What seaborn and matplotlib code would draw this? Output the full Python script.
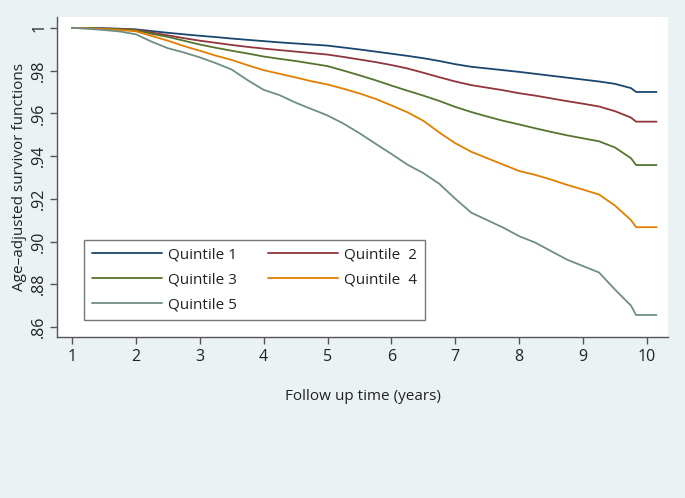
import matplotlib
matplotlib.use('Agg')
import matplotlib.pyplot as plt
import seaborn as sns
import pandas as pd

# follow up time grid (years)
times = [1.0, 1.25, 1.5, 1.75, 2.0, 2.25, 2.5, 2.75, 3.0, 3.25, 3.5, 3.75,
         4.0, 4.25, 4.5, 4.75, 5.0, 5.25, 5.5, 5.75, 6.0, 6.25, 6.5, 6.75,
         7.0, 7.25, 7.5, 7.75, 8.0, 8.25, 8.5, 8.75, 9.0, 9.25, 9.5, 9.75,
         9.83, 10.15]

q1 = [1.0, 0.9999, 0.9998, 0.9996, 0.9993, 0.9985, 0.9977, 0.9970, 0.9963, 0.9957,
      0.9950, 0.9944, 0.9938, 0.9932, 0.9927, 0.9922, 0.9917, 0.9908, 0.9899, 0.9889,
      0.9879, 0.9869, 0.9858, 0.9845, 0.9830, 0.9818, 0.9810, 0.9802, 0.9794, 0.9785,
      0.9776, 0.9767, 0.9758, 0.9749, 0.9738, 0.9718, 0.9700, 0.9700]
q2 = [1.0, 0.9999, 0.9997, 0.9995, 0.9991, 0.9978, 0.9965, 0.9952, 0.9940, 0.9930,
      0.9920, 0.9911, 0.9903, 0.9896, 0.9889, 0.9882, 0.9875, 0.9864, 0.9852, 0.9840,
      0.9826, 0.9810, 0.9790, 0.9769, 0.9749, 0.9732, 0.9720, 0.9708, 0.9694, 0.9683,
      0.9670, 0.9657, 0.9645, 0.9632, 0.9610, 0.9580, 0.9561, 0.9561]
q3 = [1.0, 0.9999, 0.9996, 0.9993, 0.9989, 0.9972, 0.9958, 0.9940, 0.9922, 0.9907,
      0.9893, 0.9880, 0.9866, 0.9855, 0.9845, 0.9833, 0.9821, 0.9800, 0.9778, 0.9755,
      0.9730, 0.9706, 0.9683, 0.9658, 0.9630, 0.9606, 0.9585, 0.9565, 0.9548, 0.9530,
      0.9513, 0.9497, 0.9483, 0.9469, 0.9440, 0.9390, 0.9358, 0.9358]
q4 = [1.0, 0.9998, 0.9994, 0.9990, 0.9984, 0.9962, 0.9940, 0.9915, 0.9893, 0.9870,
      0.9850, 0.9825, 0.9802, 0.9785, 0.9768, 0.9750, 0.9735, 0.9715, 0.9693, 0.9668,
      0.9637, 0.9605, 0.9565, 0.9510, 0.9460, 0.9420, 0.9390, 0.9360, 0.9330, 0.9312,
      0.9290, 0.9265, 0.9243, 0.9220, 0.9168, 0.9100, 0.9067, 0.9067]
q5 = [1.0, 0.9996, 0.9990, 0.9983, 0.9970, 0.9935, 0.9905, 0.9885, 0.9862, 0.9835,
      0.9805, 0.9755, 0.9710, 0.9685, 0.9650, 0.9620, 0.9590, 0.9552, 0.9507, 0.9458,
      0.9410, 0.9360, 0.9320, 0.9270, 0.9200, 0.9135, 0.9100, 0.9065, 0.9025, 0.8995,
      0.8955, 0.8915, 0.8885, 0.8855, 0.8775, 0.8700, 0.8656, 0.8656]

labels = ['Quintile 1', 'Quintile  2', 'Quintile 3', 'Quintile  4', 'Quintile 5']
colors = ['#1a476f', '#90353b', '#55752f', '#e37e00', '#6e8e84']
y_ticks = [0.86, 0.88, 0.90, 0.92, 0.94, 0.96, 0.98, 1.0]
y_ticklabels = ['.86', '.88', '.90', '.92', '.94', '.96', '.98', '1']
x_ticks = [1, 2, 3, 4, 5, 6, 7, 8, 9, 10]

frames = []
for lab, vals in zip(labels, [q1, q2, q3, q4, q5]):
    frames.append(pd.DataFrame({'time': times, 'surv': vals, 'group': lab}))
df = pd.concat(frames, ignore_index=True)

sns.set_style('white')
plt.rcParams['font.family'] = ['Open Sans', 'DejaVu Sans']

bg = '#eaf2f3'
fig = plt.figure(figsize=(6.85, 4.98), dpi=100, facecolor=bg)
ax = fig.add_axes([0.0832, 0.3233, 0.892, 0.6426])
ax.set_facecolor('white')

sns.lineplot(data=df, x='time', y='surv', hue='group', palette=colors,
             hue_order=labels, linewidth=1.3, ax=ax, legend=False)

ax.set_xlim(0.765, 10.33)
ax.set_ylim(0.8553, 1.0051)
ax.set_xticks(x_ticks)
ax.set_yticks(y_ticks)
ax.set_yticklabels(y_ticklabels, rotation=90, va='center')

for s in ['top', 'right']:
    ax.spines[s].set_visible(False)
for s in ['left', 'bottom']:
    ax.spines[s].set_color('#555555')
    ax.spines[s].set_linewidth(1.0)
ax.tick_params(axis='both', direction='out', length=5, width=1.0,
               color='#555555', labelsize=11.5, labelcolor='#222222',
               left=True, bottom=True)
ax.tick_params(axis='y', pad=2)
ax.tick_params(axis='x', pad=4)

ax.set_xlabel('Follow up time (years)', fontsize=11, color='#222222', labelpad=17)
ax.set_ylabel('Age–adjusted survivor functions', fontsize=11, color='#222222', labelpad=3)

# legend in row order: 1 2 / 3 4 / 5
lines = ax.get_lines()
order = [0, 2, 4, 1, 3]
leg = ax.legend([lines[i] for i in order], [labels[i] for i in order],
                ncol=2, loc='lower left', bbox_to_anchor=(0.0442, 0.053),
                borderaxespad=0, fontsize=11, frameon=True, fancybox=False,
                handlelength=4.6, handletextpad=0.4, columnspacing=2.0,
                labelspacing=0.65, borderpad=0.5)
leg.get_frame().set_edgecolor('#555555')
leg.get_frame().set_linewidth(1.0)
for t in leg.get_texts():
    t.set_color('#222222')

fig.savefig('out.png', dpi=100, facecolor=bg)
